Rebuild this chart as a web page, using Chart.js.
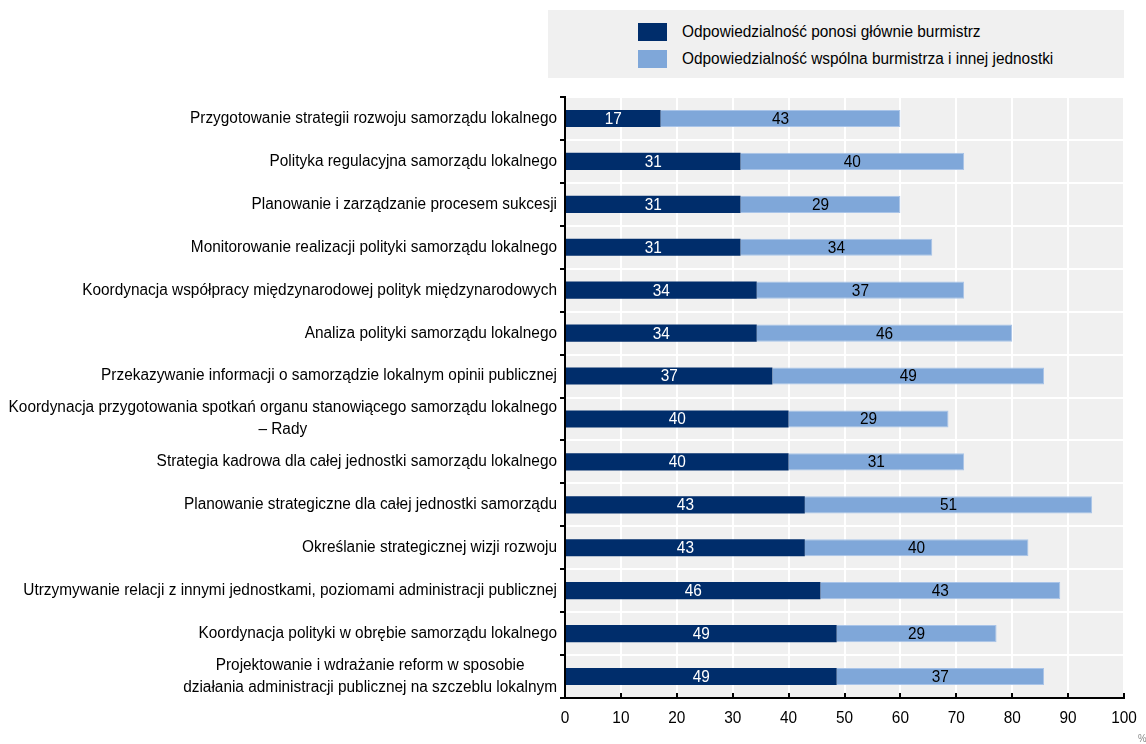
<!DOCTYPE html>
<html>
<head>
<meta charset="utf-8">
<script src="https://cdn.jsdelivr.net/npm/chart.js@4"></script>
<style>
  html, body { margin: 0; padding: 0; background: #fff; }
  body { width: 1146px; height: 744px; position: relative; overflow: hidden;
         font-family: "Liberation Sans", Arial, sans-serif; }
  #wrap { position: absolute; left: 0; top: 0; width: 1146px; height: 744px; }
  #legend { position: absolute; left: 548px; top: 10px; width: 576px; height: 68px; background: #f0f0f0; }
  .lg-item { position: absolute; left: 90px; height: 20px; display: flex; align-items: center;
             font-size: 16px; color: #000; white-space: nowrap; }
  .lg-box { width: 29px; height: 18px; margin-right: 15px; flex: none; }
  .lg-text { display: inline-block; transform-origin: left center; }
</style>
</head>
<body>
<div id="wrap"><canvas id="chart" width="1146" height="744"></canvas></div>
<div id="legend"></div>
<script>
// ── Data ────────────────────────────────────────────────────────────────────

const categories = [
  "Przygotowanie strategii rozwoju samorządu lokalnego",
  "Polityka regulacyjna samorządu lokalnego",
  "Planowanie i zarządzanie procesem sukcesji",
  "Monitorowanie realizacji polityki samorządu lokalnego",
  "Koordynacja współpracy międzynarodowej polityk międzynarodowych",
  "Analiza polityki samorządu lokalnego",
  "Przekazywanie informacji o samorządzie lokalnym opinii publicznej",
  ["Koordynacja przygotowania spotkań organu stanowiącego samorządu lokalnego", "– Rady"],
  "Strategia kadrowa dla całej jednostki samorządu lokalnego",
  "Planowanie strategiczne dla całej jednostki samorządu",
  "Określanie strategicznej wizji rozwoju",
  "Utrzymywanie relacji z innymi jednostkami, poziomami administracji publicznej",
  "Koordynacja polityki w obrębie samorządu lokalnego",
  ["Projektowanie i wdrażanie reform w sposobie", "działania administracji publicznej na szczeblu lokalnym"],
];

const mayorOnly = [17.1, 31.4, 31.4, 31.4, 34.3, 34.3, 37.1, 40.0, 40.0, 42.9, 42.9, 45.7, 48.6, 48.6];
const shared    = [42.9, 40.0, 28.6, 34.3, 37.1, 45.7, 48.6, 28.6, 31.4, 51.4, 40.0, 42.9, 28.6, 37.1];

const seriesNames = [
  "Odpowiedzialność ponosi głównie burmistrz",
  "Odpowiedzialność wspólna burmistrza i innej jednostki",
];

const xTicks = [0, 10, 20, 30, 40, 50, 60, 70, 80, 90, 100];

// ── Style ───────────────────────────────────────────────────────────────────

const FONT = "'Liberation Sans', Arial, sans-serif";
const DARK  = "#002d6b";
const LIGHT = "#7fa7d9";
const PLOT_BG = "#f0f0f0";

// narrow look: squeeze regular sans horizontally (first label is ~367px wide in the source)
const mctx = document.createElement("canvas").getContext("2d");
mctx.font = `16px ${FONT}`;
const SX = 367 / mctx.measureText(categories[0]).width;

function narrowText(ctx, text, x, y, align) {
  const w = ctx.measureText(text).width * SX;
  let x0 = x;
  if (align === "center") x0 = x - w / 2;
  else if (align === "right") x0 = x - w;
  ctx.save();
  ctx.translate(x0, y);
  ctx.scale(SX, 1);
  ctx.textAlign = "left";
  ctx.fillText(text, 0, 0);
  ctx.restore();
  return w;
}

// ── Legend (HTML) ───────────────────────────────────────────────────────────

const legendEl = document.getElementById("legend");
legendEl.innerHTML = seriesNames.map((n, i) => `
  <div class="lg-item" style="top:${12 + i * 27}px">
    <div class="lg-box" style="background:${i === 0 ? DARK : LIGHT}"></div><span class="lg-text" style="transform:scaleX(${SX})">${n}</span>
  </div>`).join("");

// ── Plugins ─────────────────────────────────────────────────────────────────

const plotBg = {
  id: "plotBg",
  beforeDraw(chart) {
    const { ctx, chartArea: a } = chart;
    ctx.save();
    ctx.fillStyle = PLOT_BG;
    ctx.fillRect(a.left, a.top, a.right - a.left, a.bottom - a.top);
    ctx.restore();
  }
};

const extras = {
  id: "extras",
  afterDatasetsDraw(chart) {
    const { ctx } = chart;
    ctx.save();
    ctx.font = `16px ${FONT}`;
    ctx.textBaseline = "middle";
    // value labels
    chart.data.datasets.forEach((ds, di) => {
      const meta = chart.getDatasetMeta(di);
      ctx.fillStyle = di === 0 ? "#ffffff" : "#000000";
      meta.data.forEach((el, i) => {
        const x = (el.x + el.base) / 2;
        narrowText(ctx, String(Math.round(ds.data[i])), x, el.y + 1, "center");
      });
    });
    ctx.restore();
  },
  afterDraw(chart) {
    const { ctx, chartArea: a, scales } = chart;
    ctx.save();
    // category labels, block right-aligned, lines centred within block
    ctx.font = `16px ${FONT}`;
    ctx.fillStyle = "#000";
    ctx.textBaseline = "middle";
    const right = a.left - 8;
    categories.forEach((c, i) => {
      const lines = Array.isArray(c) ? c : [c];
      const w = Math.max(...lines.map(l => ctx.measureText(l).width)) * SX;
      const cx = right - w / 2;
      const y = scales.y.getPixelForValue(i);
      const lh = 22;
      lines.forEach((l, k) => {
        narrowText(ctx, l, cx, y + (k - (lines.length - 1) / 2) * lh, "center");
      });
    });
    // x tick labels
    xTicks.forEach(v => {
      narrowText(ctx, String(v), scales.x.getPixelForValue(v), a.bottom + 21, "center");
    });
    // inward ticks on the x axis
    ctx.strokeStyle = "#000";
    ctx.lineWidth = 2;
    xTicks.forEach(v => {
      const x = Math.round(scales.x.getPixelForValue(v));
      ctx.beginPath();
      ctx.moveTo(x, a.bottom);
      ctx.lineTo(x, a.bottom - 5);
      ctx.stroke();
    });
    // unit
    ctx.font = `10px ${FONT}`;
    ctx.fillStyle = "#888";
    narrowText(ctx, "%", a.right + 14, 739, "left");
    ctx.restore();
  }
};

// ── Chart ───────────────────────────────────────────────────────────────────

Chart.defaults.font.family = FONT;
Chart.defaults.color = "#000";

new Chart(document.getElementById("chart"), {
  type: "bar",
  data: {
    labels: categories,
    datasets: [
      { label: seriesNames[0], data: mayorOnly, backgroundColor: DARK },
      { label: seriesNames[1], data: shared, backgroundColor: LIGHT,
        borderColor: "#a9c4e8", borderWidth: { top: 1, bottom: 1, right: 1, left: 0 }, borderSkipped: "left" },
    ]
  },
  options: {
    indexAxis: "y",
    responsive: false,
    animation: false,
    events: [],
    barPercentage: 0.4,
    categoryPercentage: 1,
    layout: { padding: { left: 0, right: 22, top: 97, bottom: 0 } },
    plugins: {
      legend: { display: false },
      tooltip: { enabled: false },
    },
    scales: {
      x: {
        stacked: true,
        min: 0,
        max: 100,
        afterBuildTicks: s => { s.ticks = xTicks.map(v => ({ value: v })); },
        afterFit: s => { s.height = 46; },
        ticks: { display: false },
        grid: { color: "#ffffff", lineWidth: 2, drawTicks: false },
        border: { color: "#000", width: 2 },
      },
      y: {
        stacked: true,
        afterFit: s => { s.width = 565; },
        ticks: { display: false },
        grid: { color: "#ffffff", lineWidth: 2, tickColor: "#000", tickLength: 5, offset: true, tickWidth: 2 },
        border: { color: "#000", width: 2 },
      }
    }
  },
  plugins: [plotBg, extras]
});
</script>
</body>
</html>
